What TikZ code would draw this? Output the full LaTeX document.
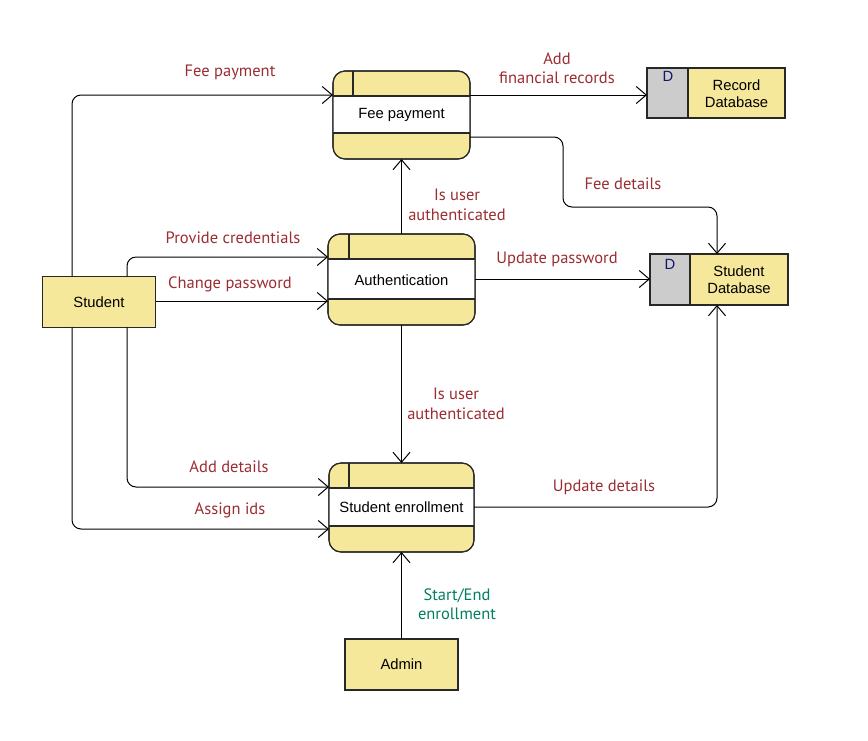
\documentclass[tikz,border=0pt]{standalone}
\usepackage{fontspec}
\setmainfont{Liberation Sans}
\newfontfamily\labelfont{PT Sans}
\usetikzlibrary{arrows.meta}
\definecolor{boxyellow}{RGB}{245,232,155}
\definecolor{dgray}{RGB}{204,204,204}
\definecolor{lblred}{RGB}{155,45,50}
\definecolor{lblgreen}{RGB}{0,128,96}
\definecolor{edgec}{RGB}{40,40,40}
\definecolor{dtext}{RGB}{20,20,110}
\begin{document}
\begin{tikzpicture}[x=1pt,y=-1pt,
  every node/.style={inner sep=0pt,outer sep=0pt},
  proc/.style={draw=edgec,line width=1.1pt,fill=boxyellow,rounded corners=12pt},
  ptext/.style={font=\fontsize{14.8}{17}\selectfont,align=center},
  lbl/.style={font=\labelfont\fontsize{16.5}{19.5}\selectfont,text=lblred,align=center},
  glbl/.style={font=\labelfont\fontsize{16.5}{19.5}\selectfont,text=lblgreen,align=center},
  flow/.style={draw=black,line width=1pt,rounded corners=9pt,-{Straight Barb[length=10pt,width=17pt,line width=1pt]}}]
\useasboundingbox (0,0) rectangle (868,740);

% external entities
\node[draw=edgec,line width=1.1pt,fill=boxyellow,minimum width=113pt,minimum height=51pt,ptext] (student) at (99,302) {Student};
\node[draw=edgec,line width=1.1pt,fill=boxyellow,minimum width=113pt,minimum height=51pt,ptext] (admin) at (401.5,664.5) {Admin};

% processes
% Fee payment: x 333-470, y 71-159
\node[proc,minimum width=137pt,minimum height=88pt] (fp) at (401.5,115) {};
\fill[white] (333,96) rectangle (470,133);
\draw[edgec,line width=1.1pt] (333,96) -- (470,96) (333,133) -- (470,133) (353,71) -- (353,96);
\draw[edgec,line width=1.1pt,rounded corners=12pt] (333,71) rectangle (470,159);
\node[ptext] (fpt) at (401.5,115) {Fee payment};

% Authentication: x 328-475, y 234-325
\node[proc,minimum width=147pt,minimum height=91pt] (au) at (401.5,279.5) {};
\fill[white] (328,259) rectangle (475,299);
\draw[edgec,line width=1.1pt] (328,259) -- (475,259) (328,299) -- (475,299) (349,234) -- (349,259);
\draw[edgec,line width=1.1pt,rounded corners=12pt] (328,234) rectangle (475,325);
\node[ptext] (aut) at (401.5,280) {Authentication};

% Student enrollment: x 329-474, y 463-552
\node[proc,minimum width=145pt,minimum height=89pt] (se) at (401.5,507.5) {};
\fill[white] (329,488) rectangle (474,526);
\draw[edgec,line width=1.1pt] (329,488) -- (474,488) (329,526) -- (474,526) (349,463) -- (349,488);
\draw[edgec,line width=1.1pt,rounded corners=12pt] (329,463) rectangle (474,552);
\node[ptext] (set) at (401.5,507) {Student enrollment};

% data stores
\fill[dgray] (647,68) rectangle (688,118);
\fill[boxyellow] (688,68) rectangle (785,118);
\draw[edgec,line width=1.1pt] (647,68) rectangle (785,118) (688,68) -- (688,118);
\node[minimum width=138pt,minimum height=50pt] (rdb) at (716,93) {};
\node[ptext,text=dtext] (rdbd) at (668,76.5) {D};
\node[ptext] (rdbt) at (736.5,93.5) {Record\\Database};

\fill[dgray] (650,254) rectangle (690,305);
\fill[boxyellow] (690,254) rectangle (788,305);
\draw[edgec,line width=1.1pt] (650,254) rectangle (788,305) (690,254) -- (690,305);
\node[minimum width=138pt,minimum height=51pt] (sdb) at (719,279.5) {};
\node[ptext,text=dtext] (sdbd) at (670,264) {D};
\node[ptext] (sdbt) at (739,280) {Student\\Database};

% helper coordinates
\coordinate (s1) at (72,276.7);
\coordinate (s2) at (127,276.7);
\coordinate (s3) at (72,327.3);
\coordinate (s4) at (127,327.3);

% flows
\draw[flow] (s1) |- (333,95);
\draw[flow] (s2) |- (328,257);
\draw[flow] (student.east |- 0,301) -- (328,301);
\draw[flow] (s4) |- (329,487);
\draw[flow] (s3) |- (329,529);
\draw[flow] (au.north) -- (fp.south);
\draw[flow] (au.south) -- (se.north);
\draw[flow] (au.east |- 0,279) -- (sdb.west |- 0,279);
\draw[flow] (470,95) -- (rdb.west |- 0,95);
\draw[flow] (470,137) -- (563,137) -- (563,207) -- (717,207) -- (717,254);
\draw[flow] (474,507) -- (717,507) -- (717,305);
\draw[flow] (admin.north) -- (se.south);

% labels
\node[lbl] (l1) at (230,72) {Fee payment};
\node[lbl] (l2) at (233,238) {Provide credentials};
\node[lbl] (l3) at (230,284) {Change password};
\node[lbl] (l4) at (229,467) {Add details};
\node[lbl] (l5) at (230,510) {Assign ids};
\node[lbl] (l6) at (457,205) {Is user\\authenticated};
\node[lbl] (l7) at (456,404) {Is user\\authenticated};
\node[lbl] (l8) at (557,259) {Update password};
\node[lbl] (l9) at (557,68) {Add\\financial records};
\node[lbl] (l10) at (623,184) {Fee details};
\node[lbl] (l11) at (604,487) {Update details};
\node[glbl] (l12) at (457,604) {Start/End\\enrollment};
\end{tikzpicture}
\end{document}
